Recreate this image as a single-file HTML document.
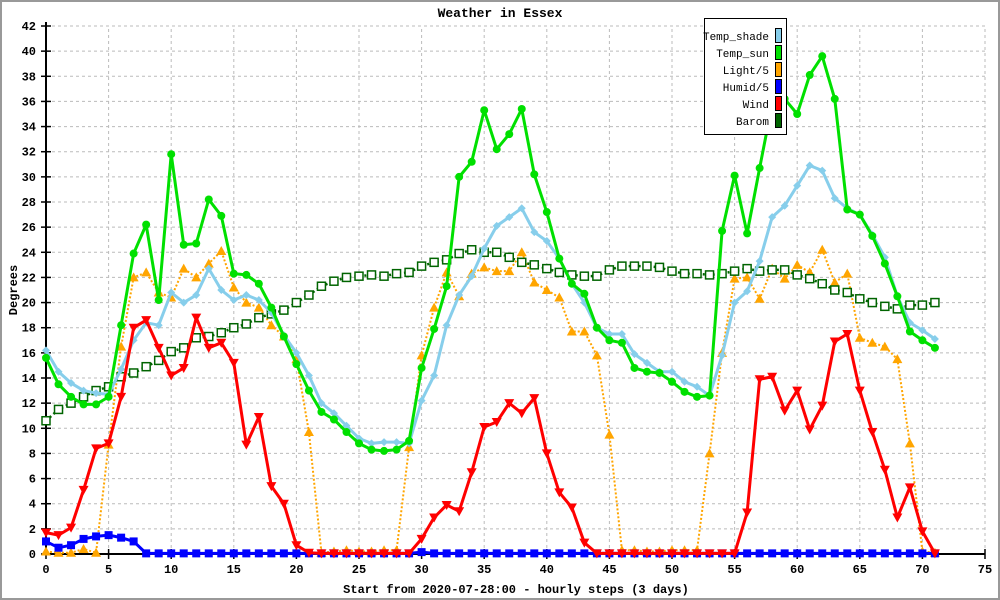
<!DOCTYPE html>
<html><head><meta charset="utf-8"><style>
html,body{margin:0;padding:0;background:#fff;}
svg{display:block;font-family:"Liberation Mono",monospace;}
</style></head><body>
<svg id="chart" width="1000" height="600" viewBox="0 0 1000 600" xmlns="http://www.w3.org/2000/svg">
<rect x="1" y="1" width="998" height="598" fill="#fff" stroke="#999" stroke-width="2"/>
<text x="500" y="17" text-anchor="middle" font-size="13" font-weight="bold">Weather in Essex</text>
<text x="516" y="593" text-anchor="middle" font-size="12" font-weight="bold">Start from 2020-07-28:00 - hourly steps (3 days)</text>
<text transform="translate(17,290) rotate(-90)" text-anchor="middle" font-size="12" font-weight="bold">Degrees</text>
<g id="grid"></g>
<g id="axes"></g>
<g id="series"></g>
<g id="legend"></g>
</svg>
<script>
const hours = Array.from({length:72},(_,i)=>i);
const xTicks = [0,5,10,15,20,25,30,35,40,45,50,55,60,65,70,75];
const yTicks = [0,2,4,6,8,10,12,14,16,18,20,22,24,26,28,30,32,34,36,38,40,42];
const seriesNames = ["Temp_shade","Temp_sun","Light/5","Humid/5","Wind","Barom"];
const tempShade = [16.2,14.5,13.6,13.0,12.8,12.7,14.7,17.0,18.4,18.2,20.8,20.0,20.6,22.7,21.0,20.2,20.6,20.2,19.2,17.4,16.0,14.2,12.0,11.2,10.2,9.2,8.8,8.9,8.9,8.8,12.2,14.2,18.2,20.6,22.1,24.3,26.1,26.8,27.5,25.6,24.9,23.5,21.5,20.0,18.0,17.5,17.5,15.9,15.2,14.5,14.5,13.7,13.3,12.6,15.8,20.0,20.9,23.3,26.8,27.7,29.3,30.9,30.5,28.3,27.5,27.0,25.4,23.6,20.5,18.4,17.8,17.1];
const tempSun = [15.6,13.5,12.5,11.9,11.9,12.5,18.2,23.9,26.2,20.2,31.8,24.6,24.7,28.2,26.9,22.3,22.2,21.5,19.6,17.3,15.1,13.0,11.3,10.7,9.7,8.8,8.3,8.2,8.3,9.0,14.8,17.9,21.3,30.0,31.2,35.3,32.2,33.4,35.4,30.2,27.2,23.5,21.5,20.7,18.0,17.0,16.8,14.8,14.5,14.4,13.7,12.9,12.5,12.6,25.7,30.1,25.5,30.7,35.8,36.2,35.0,38.1,39.6,36.2,27.4,27.0,25.3,23.1,20.5,17.7,17.0,16.4];
const light = [0.2,0.1,0.1,0.4,0.1,8.7,16.5,22.0,22.4,20.8,20.4,22.7,22.0,23.1,24.1,21.2,20.0,19.6,18.2,17.3,15.5,9.7,0.1,0.2,0.3,0.2,0.2,0.3,0.3,8.5,15.8,19.6,22.4,20.5,22.3,22.8,22.5,22.5,24.0,21.6,21.0,20.4,17.7,17.7,15.8,9.5,0.3,0.3,0.2,0.2,0.3,0.3,0.3,8.0,16.0,21.9,22.0,20.3,22.7,21.9,23.0,22.4,24.2,21.6,22.3,17.2,16.8,16.5,15.5,8.8,0.2,0.1];
const humid = [1.0,0.5,0.7,1.2,1.4,1.5,1.3,1.0,0.05,0.05,0.05,0.05,0.05,0.05,0.05,0.05,0.05,0.05,0.05,0.05,0.05,0.05,0.05,0.05,0.05,0.05,0.05,0.05,0.05,0.05,0.15,0.05,0.05,0.05,0.05,0.05,0.05,0.05,0.05,0.05,0.05,0.05,0.05,0.05,0.05,0.05,0.05,0.05,0.05,0.05,0.05,0.05,0.05,0.05,0.05,0.05,0.05,0.05,0.05,0.05,0.05,0.05,0.05,0.05,0.05,0.05,0.05,0.05,0.05,0.05,0.05,0.05];
const wind = [1.7,1.5,2.1,5.1,8.4,8.8,12.5,18.0,18.6,16.4,14.2,14.8,18.8,16.4,16.8,15.2,8.7,10.9,5.4,4.0,0.7,0.1,0.05,0.05,0.05,0.05,0.05,0.05,0.05,0.05,1.2,2.9,3.9,3.4,6.5,10.1,10.5,12.0,11.2,12.4,8.0,4.9,3.7,0.9,0.05,0.05,0.05,0.05,0.05,0.05,0.05,0.05,0.05,0.05,0.05,0.05,3.3,13.9,14.1,11.4,13.0,9.9,11.8,16.9,17.5,13.0,9.7,6.7,2.9,5.3,1.8,0.05];
const barom = [10.6,11.5,12.0,12.5,13.0,13.3,14.1,14.4,14.9,15.4,16.1,16.4,17.2,17.3,17.6,18.0,18.3,18.8,19.1,19.4,20.0,20.6,21.3,21.7,22.0,22.1,22.2,22.1,22.3,22.4,22.9,23.2,23.4,23.9,24.2,24.0,24.0,23.6,23.2,23.0,22.7,22.4,22.2,22.1,22.1,22.6,22.9,22.9,22.9,22.8,22.5,22.3,22.3,22.2,22.3,22.5,22.7,22.5,22.6,22.6,22.2,21.9,21.5,21.0,20.8,20.3,20.0,19.7,19.5,19.8,19.8,20.0];

const NS='http://www.w3.org/2000/svg';
const X0=46,X1=985,Y0=554,Y1=26;
function xs(v){return X0+(v-0)/(75-0)*(X1-X0);}
function ys(v){return Y0-(v-0)/(42-0)*(Y0-Y1);}
function mk(tag,attrs,parent){const e=document.createElementNS(NS,tag);for(const k in attrs)e.setAttribute(k,attrs[k]);parent.appendChild(e);return e;}
const grid=document.getElementById('grid'),axes=document.getElementById('axes'),ser=document.getElementById('series'),leg=document.getElementById('legend');

yTicks.forEach(t=>{
  if(t>0){const g=mk('line',{x1:X0,x2:X1,y1:ys(t),y2:ys(t),stroke:'#bbb','stroke-dasharray':'3,3'},grid);
  
  }
  const tk=mk('line',{x1:X0-5,x2:X0+5,y1:ys(t),y2:ys(t),stroke:'#000','stroke-width':1.5},axes);
  
  
  const tl=mk('text',{x:X0-10,y:ys(t)+4,'text-anchor':'end','font-size':12,'font-weight':'bold'},axes);
  tl.textContent=t;
  
  
});
xTicks.forEach(t=>{
  if(t>0){const g=mk('line',{x1:xs(t),x2:xs(t),y1:Y0,y2:Y1,stroke:'#bbb','stroke-dasharray':'3,3'},grid);
  
  }
  const tk=mk('line',{x1:xs(t),x2:xs(t),y1:Y0-5,y2:Y0+5,stroke:'#000','stroke-width':1.5},axes);
  
  
  const tl=mk('text',{x:xs(t),y:Y0+19,'text-anchor':'middle','font-size':12,'font-weight':'bold'},axes);
  tl.textContent=t;
  
  
});
const ya=mk('line',{x1:X0,x2:X0,y1:Y0,y2:Y1-4,stroke:'#000','stroke-width':2},axes);


const xa=mk('line',{x1:X0,x2:X1,y1:Y0,y2:Y0,stroke:'#000','stroke-width':2},axes);



function marker(type,x,y,color,g){
  let e;
  if(type==='circle') e=mk('circle',{cx:x,cy:y,r:4,fill:color},g);
  else if(type==='diamond') e=mk('path',{d:`M${x-4},${y}L${x},${y-4}L${x+4},${y}L${x},${y+4}Z`,fill:color},g);
  else if(type==='up') e=mk('path',{d:`M${x-5},${y+4}L${x},${y-5}L${x+5},${y+4}Z`,fill:color},g);
  else if(type==='down') e=mk('path',{d:`M${x-5},${y-4}L${x},${y+5}L${x+5},${y-4}Z`,fill:color},g);
  else if(type==='square') e=mk('rect',{x:x-4,y:y-4,width:8,height:8,fill:color},g);
  else if(type==='osquare'){e=mk('rect',{x:x-4,y:y-4,width:8,height:8,fill:'#fff',stroke:color,'stroke-width':1.5},g);}
  return e;
}
function drawSeries(vals,name,color,width,dash,mtype){
  const g=mk('g',{},ser);
  
  
  const pts=vals.map((v,i)=>xs(hours[i])+','+ys(v)).join(' ');
  const pl=mk('polyline',{points:pts,fill:'none',stroke:color,'stroke-width':width,'stroke-linejoin':'round'},g);
  if(dash)pl.setAttribute('stroke-dasharray',dash);
  
  
  vals.forEach((v,i)=>{
    const m=marker(mtype,xs(hours[i]),ys(v),color,g);
    
    
  });
}
drawSeries(light,'light','#ffa500',2,'2,2','up');
drawSeries(barom,'barom','#006400',2.5,'2,3','osquare');
drawSeries(tempShade,'temp-shade','#87ceeb',3,null,'diamond');
drawSeries(tempSun,'temp-sun','#00e000',3,null,'circle');
drawSeries(humid,'humid','#0000ff',3,null,'square');
drawSeries(wind,'wind','#ff0000',3,null,'down');

const lb=mk('rect',{x:704.5,y:18.5,width:82,height:116,fill:'#fff',stroke:'#000'},leg);


const legColors=['#87ceeb','#00e000','#ffa500','#0000ff','#ff0000','#006400'];
seriesNames.forEach((n,i)=>{
  const y=36+i*17;
  const t=mk('text',{x:769,y:y+4,'text-anchor':'end','font-size':11},leg);
  t.textContent=n;
  
  
  const r=mk('rect',{x:775.5,y:y-7.5,width:6,height:14,fill:legColors[i],stroke:'#000'},leg);
  
  
});
</script>
</body></html>
